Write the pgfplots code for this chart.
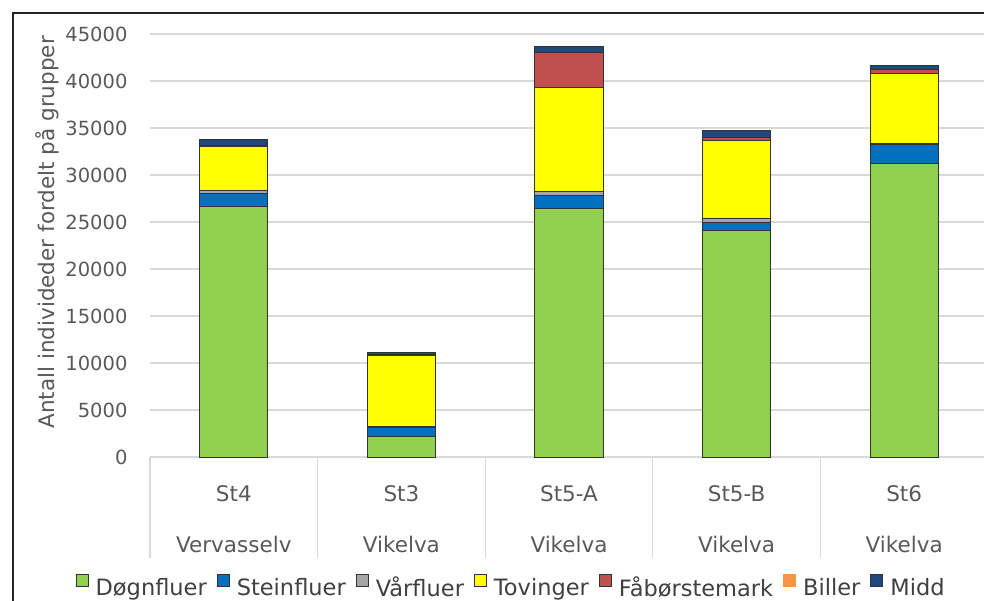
\documentclass[border=0pt]{standalone}
\usepackage{pgfplots}
\usepackage{pgfplotstable}
\pgfplotsset{compat=1.18}
\usepackage{fontspec}
\setmainfont{DejaVu Sans}
\definecolor{cD}{HTML}{92D050}
\definecolor{cS}{HTML}{0070C0}
\definecolor{cV}{HTML}{A5A5A5}
\definecolor{cT}{HTML}{FFFF00}
\definecolor{cF}{HTML}{C0504D}
\definecolor{cB}{HTML}{F79646}
\definecolor{cM}{HTML}{1F497D}
\definecolor{txt}{HTML}{595959}
\definecolor{legtxt}{HTML}{404040}
\definecolor{gridc}{HTML}{D9D9D9}

\pgfplotstableread{
x D S V T F B M
0 26700 1300 300 4700 100 50 680
1 2150 1000 100 7500 150 50 220
2 26400 1420 380 11060 3730 50 580
3 24050 950 320 8300 320 50 700
4 31180 2020 150 7500 330 50 370
}\data

\begin{document}
\begin{tikzpicture}[x=1pt,y=1pt]
\useasboundingbox (0,-601) rectangle (984,0);
\draw[black!85, line width=1.2pt] (13,-13) rectangle (1100,-700);
\begin{axis}[
  at={(150pt,-457pt)}, anchor=south west,
  scale only axis, width=838pt, height=423pt,
  ybar stacked, bar width=0.406,
  xmin=-0.5, xmax=4.5, ymin=0, ymax=45000,
  xtick={0,1,2,3,4},
  xticklabels={{St4\\[27pt]Vervasselv},{St3\\[27pt]Vikelva},{St5-A\\[27pt]Vikelva},{St5-B\\[27pt]Vikelva},{St6\\[27pt]Vikelva}},
  xticklabel style={align=center, anchor=north, yshift=-25pt, font=\fontsize{21.5}{24}\selectfont, color=txt},
  major tick length=0pt,
  extra x ticks={-0.5,0.5,1.5,2.5,3.5,4.5},
  extra x tick labels={},
  extra x tick style={grid=none, major tick length=101pt, tick align=outside, tick style={draw=gridc, line width=1.2pt}},
  ytick={0,5000,...,45000},
  scaled y ticks=false,
  ymajorgrids, grid style={draw=gridc, line width=1.2pt},
  axis x line*=bottom, axis y line*=left,
  y axis line style={draw=none},
  x axis line style={draw=gridc, line width=1.2pt, -},
  ytick style={draw=none},
  yticklabel style={font=\fontsize{19.5}{22}\selectfont, color=txt, xshift=-19pt},
  /pgf/number format/1000 sep={},
  /pgf/number format/assume math mode=true,
  ylabel={Antall individeder fordelt på grupper},
  every axis y label/.style={at={(axis description cs:-0.123,0.531)}, rotate=90, anchor=center, font=\fontsize{21.5}{24}\selectfont, color=txt},
  legend columns=7,
  legend style={draw=none, fill=none, at={(0.431,-0.307)}, anchor=center, font=\fontsize{22.5}{26}\selectfont, text=legtxt,
    /tikz/every odd column/.append style={column sep=5pt},
    /tikz/every even column/.append style={column sep=8pt}},
  legend image code/.code={\draw[#1, line width=1pt] (0pt,1pt) rectangle (12pt,13pt);},
]
\addplot[fill=cD, draw=black!80, line width=1pt] table[x=x,y=D]{\data};
\addplot[fill=cS, draw=black!80, line width=1pt] table[x=x,y=S]{\data};
\addplot[fill=cV, draw=black!80, line width=1pt] table[x=x,y=V]{\data};
\addplot[fill=cT, draw=black!80, line width=1pt] table[x=x,y=T]{\data};
\addplot[fill=cF, draw=black!80, line width=1pt] table[x=x,y=F]{\data};
\addplot[fill=cB, draw=cB, line width=1pt] table[x=x,y=B]{\data};
\addplot[fill=cM, draw=black!80, line width=1pt] table[x=x,y=M]{\data};
\legend{Døgnfluer,Steinfluer,Vårfluer,Tovinger,Fåbørstemark,Biller,Midd}
\end{axis}
\end{tikzpicture}
\end{document}
